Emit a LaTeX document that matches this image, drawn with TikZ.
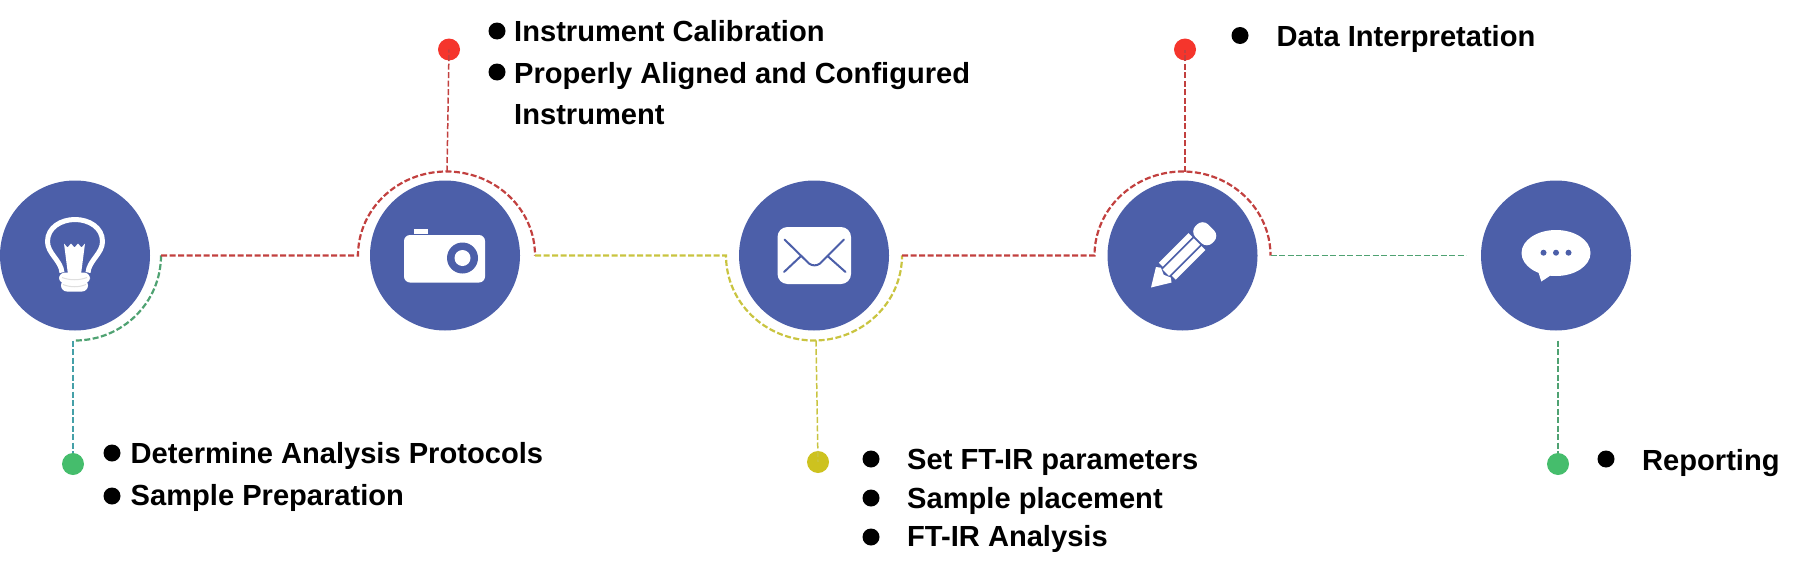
\documentclass[tikz,border=0pt]{standalone}
\usepackage{fontspec}
\setmainfont{Liberation Sans}
\usetikzlibrary{positioning}
\definecolor{stepblue}{HTML}{4C5FA9}
\definecolor{dashred}{HTML}{C2403F}
\definecolor{dashyellow}{HTML}{C9C440}
\definecolor{dashgreen}{HTML}{4FA272}
\definecolor{dashteal}{HTML}{45A0A8}
\definecolor{dotred}{HTML}{F5352C}
\definecolor{dotyellow}{HTML}{CDC21F}
\definecolor{dotgreen}{HTML}{45BD6C}
\tikzset{
    stepnode/.style = {circle, fill=stepblue, minimum size=150pt, inner sep=0pt},
    enddot/.style   = {circle, minimum size=22pt, inner sep=0pt},
    bulletdot/.style= {circle, fill=black, minimum size=17pt, inner sep=0pt},
    itemtext/.style = {anchor=base west, inner sep=0pt, font=\fontsize{29.1}{29.1}\selectfont\bfseries},
    dashline/.style = {line width=2.2pt, dash pattern=on 6pt off 2.5pt},
    thinline/.style = {line width=1.5pt, dash pattern=on 6pt off 2.5pt},
    iconline/.style = {draw=stepblue, line width=2pt, line cap=round}
}
\begin{document}
\begin{tikzpicture}[x=1pt, y=-1pt]
    \useasboundingbox (0,0) rectangle (1795,570);
    % the five steps
    \node[stepnode] (bulb)   at (75,255.5) {};
    \node[stepnode] (camera) at (445,255.5) {};
    \node[stepnode] (letter) at (814,255.5) {};
    \node[stepnode] (pencil) at (1182.5,255.5) {};
    \node[stepnode] (speech) at (1556,255.5) {};
    % end dots
    \node[enddot, fill=dotgreen]  (dotbulb)   at (73,464) {};
    \node[enddot, fill=dotred]    (dotcamera) at (449,49.5) {};
    \node[enddot, fill=dotyellow] (dotletter) at (818,462) {};
    \node[enddot, fill=dotred]    (dotpencil) at (1185,49.5) {};
    \node[enddot, fill=dotgreen]  (dotspeech) at (1558,464) {};
    % where the dashed lines meet the arcs
    \coordinate (bulbE)   at ([xshift=86pt]bulb.center);
    \coordinate (bulbS)   at ([yshift=-85pt]bulb.center);
    \coordinate (cameraW) at ([xshift=-87pt]camera.center);
    \coordinate (cameraE) at ([xshift=90pt]camera.center);
    \coordinate (cameraN) at ([xshift=2pt,yshift=84pt]camera.center);
    \coordinate (letterW) at ([xshift=-88pt]letter.center);
    \coordinate (letterE) at ([xshift=88pt]letter.center);
    \coordinate (letterS) at ([xshift=2pt,yshift=-85pt]letter.center);
    \coordinate (pencilW) at ([xshift=-88pt]pencil.center);
    \coordinate (pencilE) at ([xshift=88pt]pencil.center);
    \coordinate (pencilN) at ([xshift=2.5pt,yshift=84pt]pencil.center);
    \coordinate (speechW) at ([xshift=-90pt]speech.center);
    \coordinate (speechS) at ([xshift=2pt,yshift=-85pt]speech.center);
    % connectors
    \draw[dashline, dashgreen] (bulbE) arc[start angle=0, end angle=-90, x radius=86pt, y radius=85pt];
    \draw[thinline, dashteal] (bulbS) ++(-2pt,0pt) -- (dotbulb);
    \draw[dashline, dashred] (bulbE) -- (cameraW) arc[start angle=180, end angle=0, x radius=88.5pt, y radius=84pt];
    \draw[thinline, dashred] (cameraN) -- (dotcamera.center);
    \draw[dashline, dashyellow] (cameraE) -- (letterW) arc[start angle=180, end angle=360, x radius=88pt, y radius=85pt];
    \draw[thinline, dashyellow] (letterS) -- (dotletter.center);
    \draw[dashline, dashred] (letterE) -- (pencilW) arc[start angle=180, end angle=0, x radius=88pt, y radius=84pt];
    \draw[thinline, dashred] (pencilN) -- (dotpencil.center);
    \draw[line width=1.7pt, dash pattern=on 6pt off 2.5pt, dashgreen] (pencilE) -- (speechW);
    \draw[dashline, dashgreen] (speechS) -- (dotspeech);
    % lamp
    \begin{scope}[shift={(bulb.center)}]
        \draw[white, line width=5pt, line join=round] (-13,17) .. controls (-14,5) and (-27.5,-2) .. (-27.5,-14)
            .. controls (-27.5,-28) and (-14,-36) .. (0,-36)
            .. controls (14,-36) and (27.5,-28) .. (27.5,-14)
            .. controls (27.5,-2) and (14,5) .. (13,17);
        \fill[white] (-11,-12) -- (-7.5,-8) -- (-4,-12) -- (-0.5,-8) -- (3,-12) -- (6.5,-8) -- (10,-12)
            -- (6,19) -- (-7,19) -- cycle;
        \fill[white, rounded corners=6pt] (-16,17) rectangle (15,28);
        \fill[white, rounded corners=6pt] (-14,24) rectangle (13,36);
        \draw[gray!25, line width=1pt] (-13,22) .. controls (-5,25) and (4,25) .. (12,22);
        \draw[gray!25, line width=1pt] (-12,29) .. controls (-5,32) and (4,32) .. (11,29);
    \end{scope}
    % camera
    \begin{scope}[shift={(camera.center)}]
        \fill[white, rounded corners=6pt] (-41,-20.5) rectangle (40,27);
        \fill[white] (-31.5,-26.5) rectangle (-17,-21.5);
        \fill[stepblue] (17.5,2.5) circle[radius=15.5pt];
        \fill[white] (17.5,2.5) circle[radius=8pt];
    \end{scope}
    % envelope
    \begin{scope}[shift={(letter.center)}]
        \fill[white, rounded corners=10pt] (-36.5,-28.5) rectangle (37,28.5);
        \draw[iconline] (-29.5,-16) -- (-5,8) .. controls (-2,10.5) and (3,10.5) .. (6,8) -- (30,-16);
        \draw[iconline] (-30,16.5) -- (-13,0.5);
        \draw[iconline] (31.5,16.5) -- (13.5,0.5);
    \end{scope}
    % pencil, drawn from the point upwards
    \begin{scope}[shift={(pencil.center)}, shift={(-31.5,32)}, rotate=45]
        \fill[white] (0,0) -- (18,-11) -- (21,-7) -- (18,0) -- (21,7) -- (18,11) -- cycle;
        \fill[white] (23,-12) rectangle (65,-6.5);
        \fill[white] (21,-4.5) rectangle (65,4.5);
        \fill[white] (23,6.5) rectangle (65,12);
        \fill[white, rounded corners=8pt] (67,-12) rectangle (85,12);
    \end{scope}
    % speech bubble
    \begin{scope}[shift={(speech.center)}]
        \fill[white] (0,-2.5) ellipse[x radius=34.5pt, y radius=23pt];
        \fill[white] (-17.5,17) -- (-14.7,26) -- (-4,19) -- cycle;
        \foreach \dotx in {-12.5,0,12.5}
            \fill[stepblue] (\dotx,-2.8) circle[radius=3pt];
    \end{scope}
    % bullets
    \node[bulletdot] (bulcalib)  at (497,31) {};
    \node[bulletdot] (bulalign)  at (497,72) {};
    \node[bulletdot] (bulproto)  at (112,453) {};
    \node[bulletdot] (bulprep)   at (112,496) {};
    \node[bulletdot] (bulparam)  at (871,459) {};
    \node[bulletdot] (bulplace)  at (871,498) {};
    \node[bulletdot] (bulftir)   at (871,537) {};
    \node[bulletdot] (buldata)   at (1240,35.5) {};
    \node[bulletdot] (bulreport) at (1606,459) {};
    % texts
    \node[itemtext] (calib)  at (514,41.5) {Instrument Calibration};
    \node[itemtext] (align)  at (514,83.3) {Properly Aligned and Configured};
    \node[itemtext] (instr)  at (514,124.5) {Instrument};
    \node[itemtext] (proto)  at (130.5,463) {Determine Analysis Protocols};
    \node[itemtext] (prep)   at (130.5,505.5) {Sample Preparation};
    \node[itemtext] (param)  at (907,469) {Set FT-IR parameters};
    \node[itemtext] (place)  at (907,508.7) {Sample placement};
    \node[itemtext] (ftir)   at (907,546) {FT-IR Analysis};
    \node[itemtext] (data)   at (1276.5,46.5) {Data Interpretation};
    \node[itemtext] (report) at (1642,470) {Reporting};
\end{tikzpicture}
\end{document}
